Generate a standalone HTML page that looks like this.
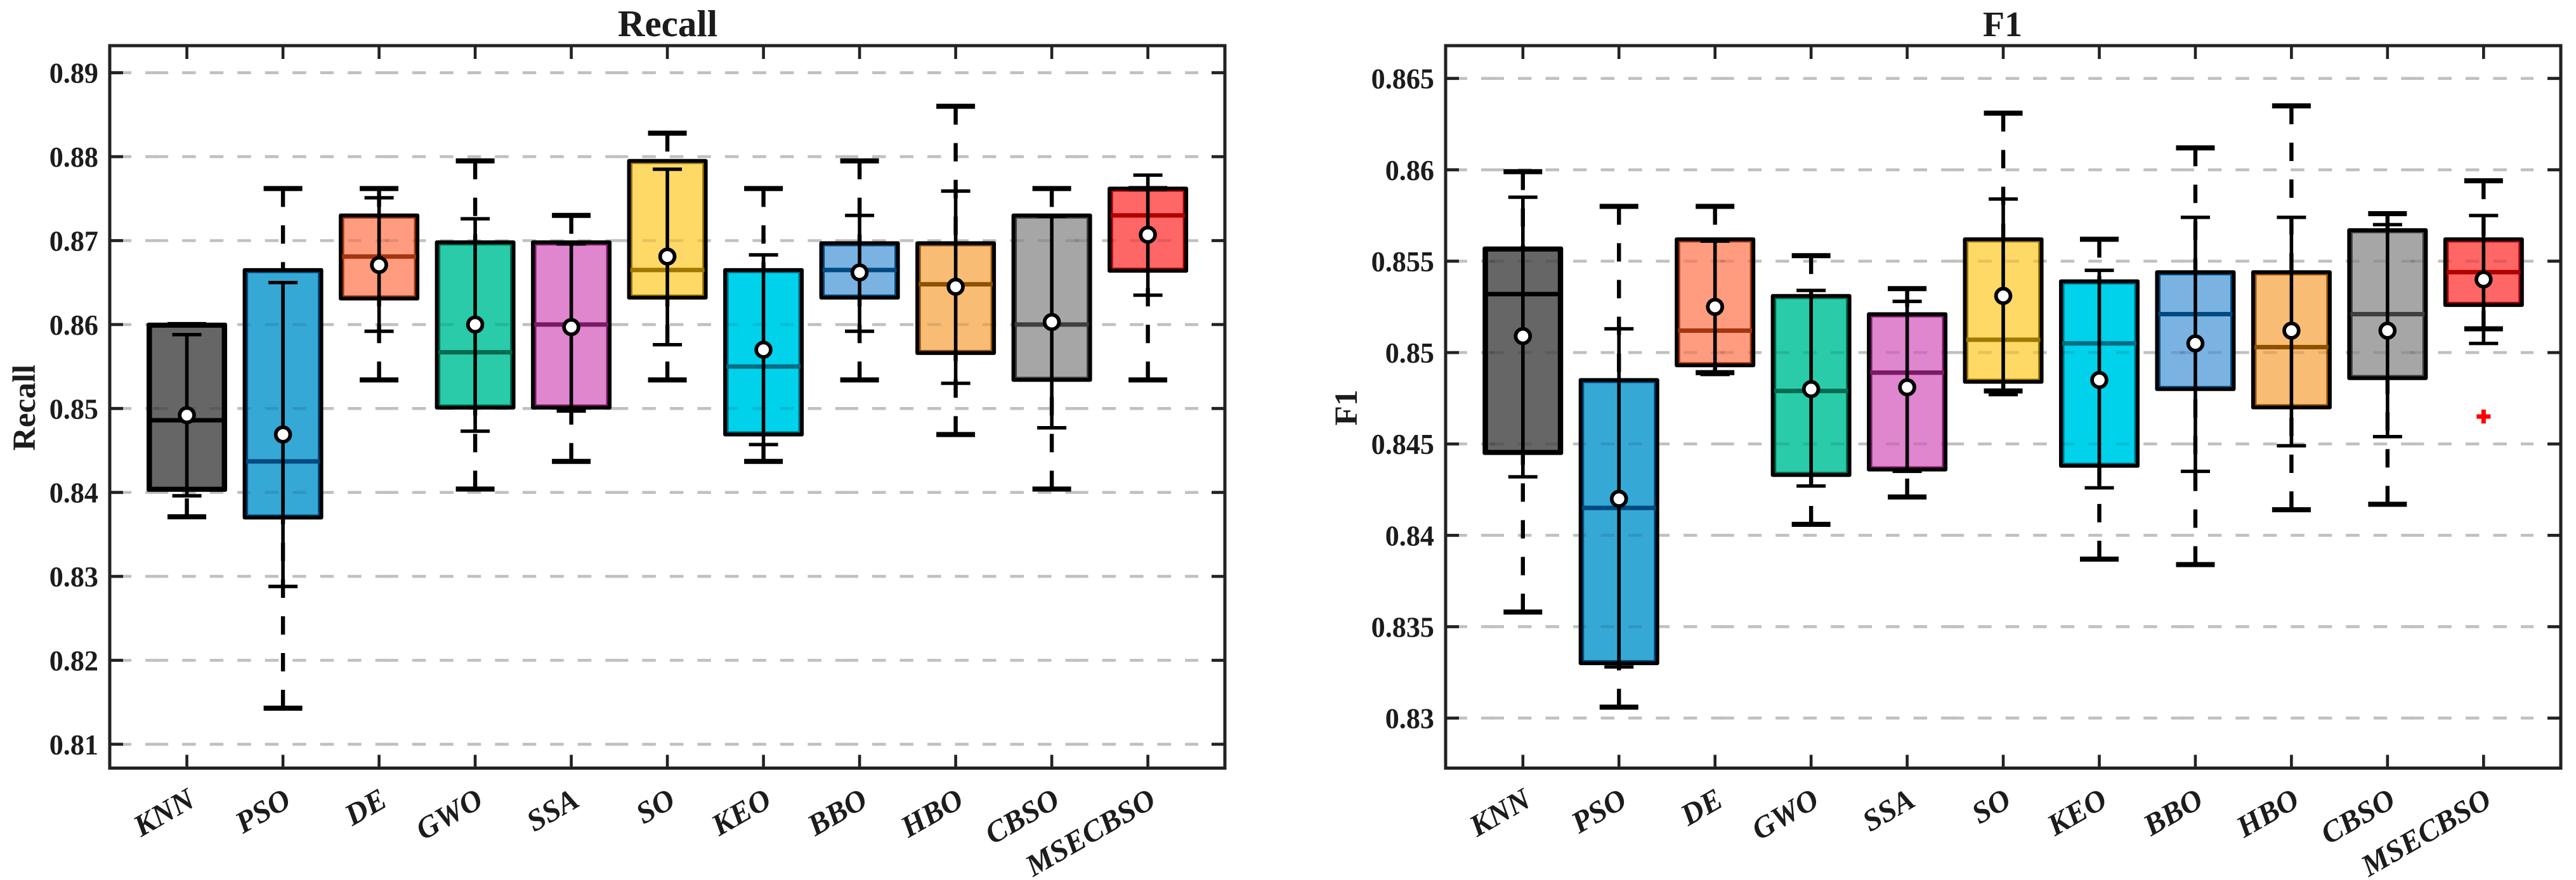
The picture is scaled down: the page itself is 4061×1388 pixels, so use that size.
<!DOCTYPE html>
<html lang="en">
<head>
<meta charset="utf-8">
<title>Recall and F1 box plots</title>
<style>
html,body{margin:0;padding:0;background:#fff;width:4061px;height:1388px;overflow:hidden}
svg{display:block}
text{font-family:"Liberation Serif",serif;font-weight:bold;fill:#1c1c1c}
</style>
</head>
<body>
<svg id="figure" xmlns="http://www.w3.org/2000/svg" width="4061" height="1388" viewBox="0 0 4061 1388"></svg>
<script>
const categories = ['KNN','PSO','DE','GWO','SSA','SO','KEO','BBO','HBO','CBSO','MSECBSO'];

const recallTicks = [0.81,0.82,0.83,0.84,0.85,0.86,0.87,0.88,0.89];
const recallTickLabels = ['0.81','0.82','0.83','0.84','0.85','0.86','0.87','0.88','0.89'];
const recallWhiskerLow  = [0.8371,0.8143,0.8534,0.8404,0.8437,0.8534,0.8437,0.8534,0.8469,0.8404,0.8534];
const recallQ1          = [0.8403,0.8370,0.8631,0.8501,0.8501,0.8632,0.8469,0.8632,0.8566,0.8534,0.8664];
const recallMedian      = [0.8486,0.8437,0.8681,0.8567,0.8600,0.8665,0.8550,0.8665,0.8648,0.8600,0.8730];
const recallQ3          = [0.8600,0.8665,0.8730,0.8698,0.8698,0.8795,0.8665,0.8697,0.8697,0.8730,0.8762];
const recallWhiskerHigh = [0.8600,0.8762,0.8762,0.8795,0.8730,0.8828,0.8762,0.8795,0.8860,0.8762,0.8762];
const recallMean        = [0.8492,0.8469,0.8671,0.8600,0.8597,0.8681,0.8570,0.8662,0.8645,0.8603,0.8707];
const recallErrLow      = [0.8396,0.8288,0.8592,0.8473,0.8497,0.8576,0.8457,0.8592,0.8530,0.8477,0.8635];
const recallErrHigh     = [0.8588,0.8650,0.8751,0.8726,0.8696,0.8785,0.8683,0.8730,0.8759,0.8729,0.8778];
const recallOutliers    = [[],[],[],[],[],[],[],[],[],[],[]];

const f1Ticks = [0.83,0.835,0.84,0.845,0.85,0.855,0.86,0.865];
const f1TickLabels = ['0.83','0.835','0.84','0.845','0.85','0.855','0.86','0.865'];
const f1WhiskerLow  = [0.8358,0.8306,0.8489,0.8406,0.8421,0.8479,0.8387,0.8384,0.8414,0.8417,0.8513];
const f1Q1          = [0.8445,0.8330,0.8493,0.8433,0.8436,0.8484,0.8438,0.8480,0.8470,0.8486,0.8526];
const f1Median      = [0.8532,0.8415,0.8512,0.8479,0.8489,0.8507,0.8505,0.8521,0.8503,0.8521,0.8544];
const f1Q3          = [0.8557,0.8485,0.8562,0.8531,0.8521,0.8562,0.8539,0.8544,0.8544,0.8567,0.8562];
const f1WhiskerHigh = [0.8599,0.8580,0.8580,0.8553,0.8535,0.8631,0.8562,0.8612,0.8635,0.8576,0.8594];
const f1Mean        = [0.8509,0.8420,0.8525,0.8480,0.8481,0.8531,0.8485,0.8505,0.8512,0.8512,0.8540];
const f1ErrLow      = [0.8432,0.8328,0.8488,0.8427,0.8435,0.8477,0.8426,0.8435,0.8449,0.8454,0.8505];
const f1ErrHigh     = [0.8585,0.8513,0.8561,0.8534,0.8528,0.8584,0.8545,0.8574,0.8574,0.8570,0.8575];
const f1Outliers    = [[],[],[],[],[],[],[],[],[],[],[0.8465]];

const fillColors = ['#666666','#35A8D6','#FF9B7E','#29CBA9','#DF86CF','#FFD966','#00D2EB','#7AB2E2','#F8BC75','#A6A6A6','#FF6666'];
const darkColors = ['#000000','#004A80','#A33510','#006B4F','#7A1A66','#A07800','#006D85','#004A80','#8F5000','#3F3F3F','#B00000'];

const SVG_NS = 'http://www.w3.org/2000/svg';
const figure = document.getElementById('figure');

function make(parent, tag, attrs, content) {
  const el = document.createElementNS(SVG_NS, tag);
  for (const k in attrs) el.setAttribute(k, attrs[k]);
  if (content !== undefined) el.textContent = content;
  parent.appendChild(el);
  return el;
}

function makeLine(parent, x1, y1, x2, y2, color, width, name, dash) {
  const el = make(parent, 'line', {x1:x1, y1:y1, x2:x2, y2:y2, stroke:color, 'stroke-width':width});
  if (dash) el.setAttribute('stroke-dasharray', dash);
  
  
  return el;
}

function drawGrid(parent, panel, color, opacity) {
  const x2 = panel.gridEnd;
  panel.ticks.forEach(function (t) {
    const y = panel.yScale(t);
    for (let s = panel.gridPhase; s < x2; s += 362.6) {
      const line = makeLine(parent, s, y, Math.min(s + 362.6 + 15, x2), y, color, 4.6, 'grid-line', '21.5 22');
      line.setAttribute('stroke-opacity', opacity);
    }
  });
}

function drawPanel(panel) {
  const xScale = panel.xScale;
  const yScale = panel.yScale;
  const top = panel.top, bottom = panel.bottom, left = panel.left, right = panel.right;
  const halfBox = 60.5, halfWide = 30.5, halfShort = 23;

  const g = make(figure, 'g', {});
  
  

  const clipId = panel.id + '-grid-clip';
  const defs = make(g, 'defs', {});
  const clip = make(defs, 'clipPath', {id:clipId});
  const outerClip = make(defs, 'clipPath', {id:clipId + '-outer'});
  make(outerClip, 'rect', {x:left, y:top, width:panel.gridEnd - left, height:bottom - top});
  categories.forEach(function (c, i) {
    make(clip, 'rect', {
      x:xScale(i) - halfBox, y:yScale(panel.q3[i]),
      width:2 * halfBox, height:yScale(panel.q1[i]) - yScale(panel.q3[i])
    });
  });

  const gridBase = make(g, 'g', {'clip-path':'url(#' + clipId + '-outer)'});
  
  
  drawGrid(gridBase, panel, '#c0c0c0', 1);

  categories.forEach(function (c, i) {
    const x = xScale(i);
    const yTop = yScale(panel.q3[i]);
    const yBot = yScale(panel.q1[i]);
    const fill = make(g, 'rect', {x:x - halfBox + 4, y:yTop + 3.5, width:2 * halfBox - 8, height:yBot - yTop - 7,
      fill:fillColors[i], stroke:darkColors[i], 'stroke-width':3});
    
    
  });

  const gridOver = make(g, 'g', {'clip-path':'url(#' + clipId + ')'});
  
  
  drawGrid(gridOver, panel, '#000000', 0.1);

  categories.forEach(function (c, i) {
    const key = c.toLowerCase();
    const x = xScale(i);
    const yTop = yScale(panel.q3[i]);
    const yBot = yScale(panel.q1[i]);

    const group = make(g, 'g', {});
    
    

    const outline = make(group, 'rect', {x:x - halfBox, y:yTop, width:2 * halfBox, height:yBot - yTop,
      fill:'none', stroke:'#000', 'stroke-width':6, 'stroke-linejoin':'round'});
    
    

    const ym = yScale(panel.median[i]);
    makeLine(group, x - halfBox + 2, ym, x + halfBox - 2, ym, darkColors[i], 7, 'median-line');

    const yHi = yScale(panel.whiskerHigh[i]);
    const yLo = yScale(panel.whiskerLow[i]);
    if (yHi < yTop) makeLine(group, x, yHi, x, yTop, '#000', 6.4, 'upper-whisker', '29 29');
    if (yLo > yBot) makeLine(group, x, yLo, x, yBot, '#000', 6.4, 'lower-whisker', '29 29');
    makeLine(group, x - halfWide, yHi, x + halfWide, yHi, '#000', 8, 'upper-whisker-cap');
    makeLine(group, x - halfWide, yLo, x + halfWide, yLo, '#000', 8, 'lower-whisker-cap');

    const eHi = yScale(panel.errHigh[i]);
    const eLo = yScale(panel.errLow[i]);
    makeLine(group, x, eHi, x, eLo, '#000', 5.6, 'error-bar');
    makeLine(group, x - halfShort, eHi, x + halfShort, eHi, '#000', 5.4, 'error-bar-top-cap');
    makeLine(group, x - halfShort, eLo, x + halfShort, eLo, '#000', 5.4, 'error-bar-bottom-cap');

    const mean = make(group, 'circle', {cx:x, cy:yScale(panel.mean[i]), r:11.4, fill:'#fff', stroke:'#000', 'stroke-width':5.8});
    
    

    panel.outliers[i].forEach(function (v) {
      const y = yScale(v);
      makeLine(group, x - 11, y, x + 11, y, '#ff0000', 7, 'outlier-marker');
      makeLine(group, x, y - 11, x, y + 11, '#ff0000', 7, 'outlier-marker');
    });
  });

  const frame = make(g, 'rect', {x:left, y:top, width:right - left, height:bottom - top, fill:'none', stroke:'#222', 'stroke-width':5});
  
  

  panel.ticks.forEach(function (t, i) {
    const y = yScale(t);
    makeLine(g, left, y, left + 21, y, '#222', 4.8, 'y-tick');
    makeLine(g, right, y, right - 21, y, '#222', 4.8, 'y-tick-right');
    const lx = panel.yLabelX, ly = y + 16;
    const lab = make(g, 'text', {x:0, y:0, 'text-anchor':'end', 'font-size':46,
      transform:'translate(' + lx + ' ' + ly + ') scale(0.96 1)'}, panel.tickLabels[i]);
    
    
  });

  categories.forEach(function (c, i) {
    const x = xScale(i);
    makeLine(g, x, bottom, x, bottom - 21, '#222', 4.6, 'x-tick');
    makeLine(g, x, top, x, top + 21, '#222', 4.6, 'x-tick-top');
    const tx = x + 15.5, ty = 1270;
    const lab = make(g, 'text', {x:tx, y:ty, 'text-anchor':'end', 'font-size':48, 'font-style':'italic',
      transform:'rotate(-30 ' + tx + ' ' + ty + ')'}, c);
    
    
  });

  const title = make(g, 'text', {x:panel.titleX, y:57, 'text-anchor':'middle', 'font-size':panel.titleSize, fill:'#000'}, panel.title);
  
  

  const yt = make(g, 'text', {x:panel.yTitleX, y:643, 'text-anchor':'middle', 'font-size':51,
    transform:'rotate(-90 ' + panel.yTitleX + ' 643)'}, panel.title);
  
  
}

drawPanel({
  id:'recall', title:'Recall', titleX:1052.5, titleSize:59, yTitleX:55, yLabelX:155,
  left:173, right:1931, top:72, bottom:1211.5,
  gridPhase:243.7 - 362.6, gridEnd:1889,
  xScale:function (i) { return 294.6 + 151.5 * i; },
  yScale:function (v) { return 114.7 + (0.89 - v) * 13240; },
  ticks:recallTicks, tickLabels:recallTickLabels,
  whiskerLow:recallWhiskerLow, q1:recallQ1, median:recallMedian, q3:recallQ3, whiskerHigh:recallWhiskerHigh,
  mean:recallMean, errLow:recallErrLow, errHigh:recallErrHigh, outliers:recallOutliers
});

drawPanel({
  id:'f1', title:'F1', titleX:3157, titleSize:56, yTitleX:2139, yLabelX:2261,
  left:2279, right:4037, top:72, bottom:1211.5,
  gridPhase:2349.5 - 362.6, gridEnd:3994,
  xScale:function (i) { return 2400.8 + 151.45 * i; },
  yScale:function (v) { return 123.7 + (0.865 - v) * 28826; },
  ticks:f1Ticks, tickLabels:f1TickLabels,
  whiskerLow:f1WhiskerLow, q1:f1Q1, median:f1Median, q3:f1Q3, whiskerHigh:f1WhiskerHigh,
  mean:f1Mean, errLow:f1ErrLow, errHigh:f1ErrHigh, outliers:f1Outliers
});
</script>
</body>
</html>
